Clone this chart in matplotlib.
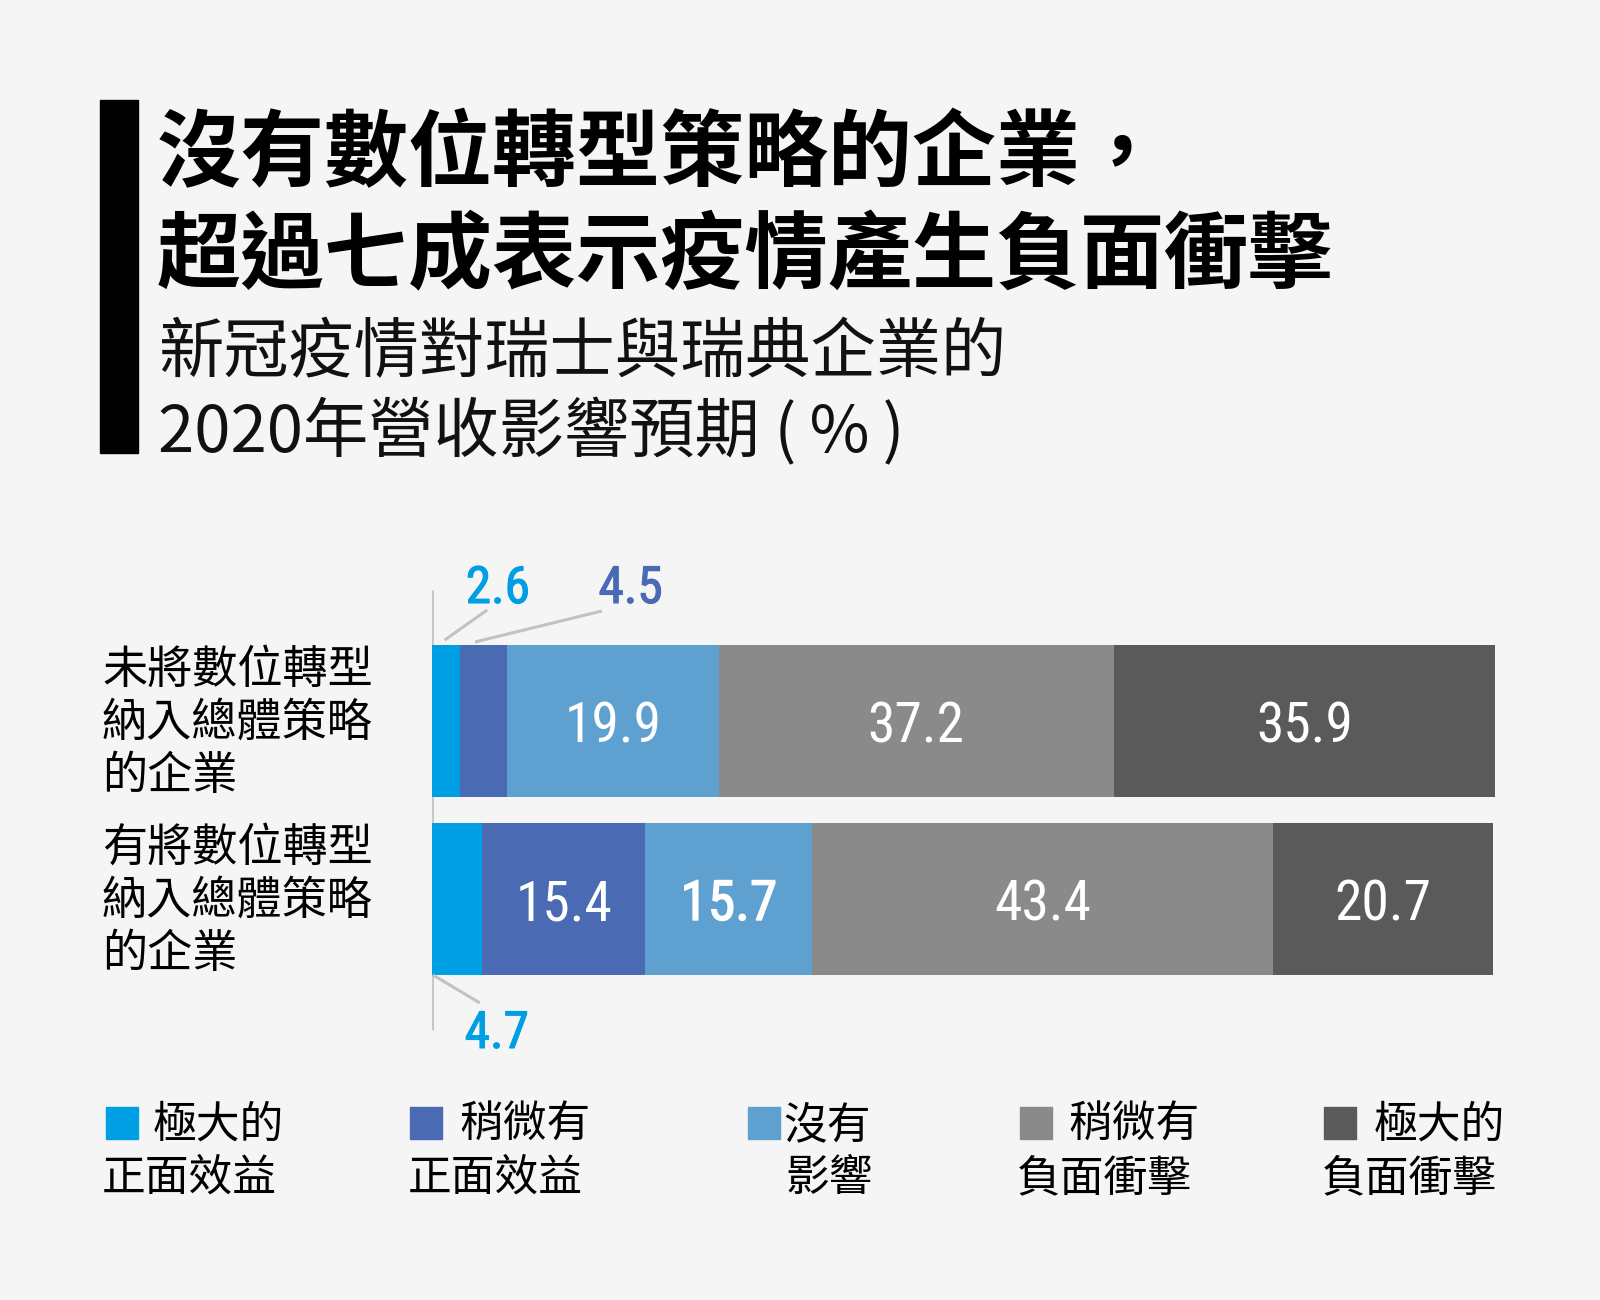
import matplotlib
matplotlib.use("Agg")
import matplotlib.pyplot as plt
from matplotlib import font_manager as fm
from matplotlib.patches import Rectangle
import matplotlib.patheffects as pe
import numpy as np

# ---------------- data ----------------
categories = ["未將數位轉型\n納入總體策略\n的企業", "有將數位轉型\n納入總體策略\n的企業"]
series_names = ["極大的\n正面效益", "稍微有\n正面效益", "沒有\n影響", "稍微有\n負面衝擊", "極大的\n負面衝擊"]
values_without = [2.6, 4.5, 19.9, 37.2, 35.9]
values_with = [4.7, 15.4, 15.7, 43.4, 20.7]
title_lines = ["沒有數位轉型策略的企業，", "超過七成表示疫情產生負面衝擊"]
subtitle_lines = ["新冠疫情對瑞士與瑞典企業的", "2020年營收影響預期 (\u2009%\u2009)"]

colors = ["#009FE3", "#4A6AB3", "#5EA0CF", "#8A8A8A", "#5A5A5A"]
BG = "#F5F5F5"

# ---------------- fonts ----------------
CJK = "Noto Sans CJK TC"
names = {f.name for f in fm.fontManager.ttflist}
num_family = None
for cand in ["Roboto Condensed", "DejaVu Sans Condensed", "Liberation Sans Narrow"]:
    if cand in names:
        num_family = cand
        break
num_stretch = "normal"
if num_family is None:
    num_family = "DejaVu Sans"
    num_stretch = "condensed"

plt.rcParams["font.family"] = [CJK, "DejaVu Sans"]

W, H = 1600, 1300
fig = plt.figure(figsize=(16, 13), dpi=100, facecolor=BG)

def fx(px):
    return px / W

def fy(py):
    return 1 - py / H

# black side bar
fig.patches.append(Rectangle((fx(100), fy(453)), fx(138) - fx(100), fy(100) - fy(453),
                             transform=fig.transFigure, color="black", zorder=1))

# title
for line, base in zip(title_lines, [180, 282]):
    fig.text(fx(157), fy(base), line, fontsize=60.5, fontweight="heavy",
             family=[CJK, "DejaVu Sans"], va="baseline", ha="left", color="black")
for line, base in zip(subtitle_lines, [372, 452]):
    fig.text(fx(158), fy(base), line, fontsize=47, fontweight="light",
             family=[CJK, "DejaVu Sans"], va="baseline", ha="left", color="#111111")

# ---------------- bars ----------------
ax_left, ax_right = 432, 1495
ax_top, ax_bot = 560, 1060
ax = fig.add_axes([fx(ax_left), fy(ax_bot), fx(ax_right) - fx(ax_left), (ax_bot - ax_top) / H])
ax.set_facecolor("none")
ax.set_axis_off()

rows = [values_without, values_with]
ypos = [1, 0]
xmax = max(sum(values_without), sum(values_with))
ax.set_xlim(0, xmax)
ax.set_ylim(-0.9045, 1.9045)
bar_h = 0.854

for r, (vals, y) in enumerate(zip(rows, ypos)):
    left = 0
    for i, v in enumerate(vals):
        ax.barh(y, v, left=left, height=bar_h, color=colors[i], edgecolor="none", zorder=3)
        left += v

# axis line
ax.plot([0, 0], [1.736, -0.736], color="#C8C8C8", lw=2.2, zorder=2, solid_capstyle="butt")

# inside labels (white)
for r, (vals, y) in enumerate(zip(rows, ypos)):
    cum = np.cumsum([0] + vals)
    for i, v in enumerate(vals):
        if v < 10:
            continue
        effects = [pe.withStroke(linewidth=1.0, foreground="white")] if (r == 1 and i == 2) else None
        ax.text(cum[i] + v / 2, y - 0.118, f"{v:.1f}", color="white", fontsize=40,
                family=num_family, fontstretch=num_stretch,
                ha="center", va="baseline", zorder=5, path_effects=effects)

# outside labels with leader lines
cum0 = np.cumsum([0] + values_without)
cum1 = np.cumsum([0] + values_with)
lc = "#C2C2C2"
# 2.6
ax.plot([cum0[0] + values_without[0] / 2 - 0.1, 5.2], [1.455, 1.624], color=lc, lw=2.2, zorder=4,
        solid_capstyle="butt")
ax.text(6.2, 1.663, f"{values_without[0]:.1f}", color=colors[0], fontsize=37, family=num_family,
        fontstretch=num_stretch, ha="center", va="baseline",
        path_effects=[pe.withStroke(linewidth=0.8, foreground=colors[0])])
# 4.5
ax.plot([cum0[1] + values_without[1] / 2 - 0.8, 16.0], [1.444, 1.618], color=lc, lw=2.2, zorder=4,
        solid_capstyle="butt")
ax.text(18.7, 1.663, f"{values_without[1]:.1f}", color=colors[1], fontsize=37, family=num_family,
        fontstretch=num_stretch, ha="center", va="baseline",
        path_effects=[pe.withStroke(linewidth=0.8, foreground=colors[1])])
# 4.7
ax.plot([cum1[0] + 0.1, 4.5], [-0.427, -0.584], color=lc, lw=2.2, zorder=4, solid_capstyle="butt")
ax.text(6.1, -0.837, f"{values_with[0]:.1f}", color=colors[0], fontsize=37, family=num_family,
        fontstretch=num_stretch, ha="center", va="baseline",
        path_effects=[pe.withStroke(linewidth=0.8, foreground=colors[0])])

# category labels
cat_centers = [723, 901]
for lab, cy in zip(categories, cat_centers):
    fig.text(fx(102), fy(cy), lab, fontsize=32.5, family=[CJK, "DejaVu Sans"], ha="left",
             va="center", linespacing=1.2, color="black")

# ---------------- legend ----------------
sq_x = [106, 410, 748, 1020, 1324]
t1_x = [153, 459, 783, 1068, 1374]
t2_x = [102, 408, 785, 1017, 1322]
for i, name in enumerate(series_names):
    l1, l2 = name.split("\n")
    fig.patches.append(Rectangle((fx(sq_x[i]), fy(1139)), 32 / W, 32 / H,
                                 transform=fig.transFigure, color=colors[i]))
    fig.text(fx(t1_x[i]), fy(1125), l1, fontsize=31.5, family=[CJK, "DejaVu Sans"],
             ha="left", va="center", color="black")
    fig.text(fx(t2_x[i]), fy(1178), l2, fontsize=31.5, family=[CJK, "DejaVu Sans"],
             ha="left", va="center", color="black")

fig.savefig("out.png", dpi=100, facecolor=BG)
